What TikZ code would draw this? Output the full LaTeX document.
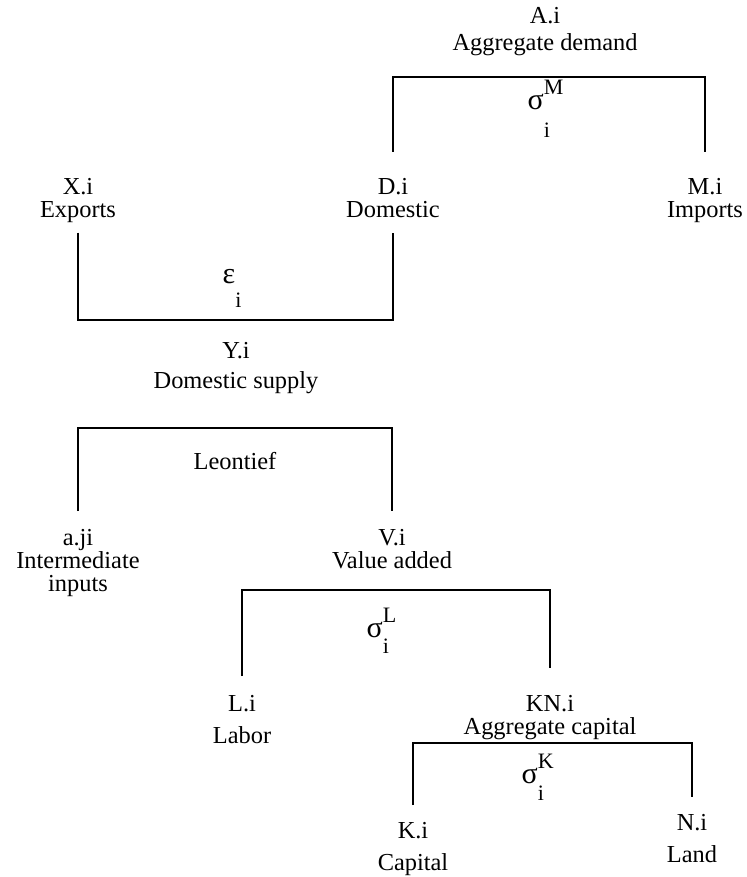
\documentclass[tikz,border=0pt]{standalone}
\usepackage{fontspec}
\setmainfont{Liberation Serif}
\newcommand{\elas}[3]{#1\rlap{\raisebox{7.5pt}{\fontsize{11}{11}\selectfont #2}}\raisebox{-#3}{\fontsize{11}{11}\selectfont i}}

\begin{document}
\begin{tikzpicture}[x=0.5pt,y=-0.5pt,line width=0.7pt,
  lbl/.style={align=center,inner sep=0pt,anchor=north,font=\fontsize{12.2}{11.5}\selectfont},
  par/.style={inner sep=0pt,anchor=base west,font=\fontsize{15}{15}\selectfont}]
\useasboundingbox (0,0) rectangle (746,877);

% labels
\node[lbl] (ad) at (545,7) {A.i\\[2pt]Aggregate demand};
\node[lbl] (exp) at (78,178) {X.i\\Exports};
\node[lbl] (dom) at (393,178) {D.i\\Domestic};
\node[lbl] (imp) at (705,178) {M.i\\Imports};
\node[lbl] (ds) at (236,342) {Y.i\\[3.5pt]Domestic supply};
\node[lbl] (int) at (78,529) {a.ji\\Intermediate\\inputs};
\node[lbl] (va) at (392,529) {V.i\\Value added};
\node[lbl] (lab) at (242,695) {L.i\\[4.5pt]Labor};
\node[lbl] (kn) at (550,695) {KN.i\\Aggregate capital};
\node[lbl] (cap) at (413,822) {K.i\\[4.5pt]Capital};
\node[lbl] (land) at (692,814) {N.i\\[4.5pt]Land};

% elasticities
\node[par] (sigM) at (527,110) {\elas{σ}{M}{14pt}};
\node[par] (epsi) at (222,283) {\elas{ε}{}{12pt}};
\node[lbl] (leon) at (235,452) {Leontief};
\node[par] (sigL) at (366,637) {\elas{σ}{L}{8pt}};
\node[par] (sigK) at (521,783) {\elas{σ}{K}{8.5pt}};

% nests
\coordinate (barA) at (545,77);
\coordinate (barE) at (235,320);
\coordinate (barY) at (235,428);
\coordinate (barV) at (392,590);
\coordinate (barK) at (550,743);

\draw ([yshift=13pt]dom.north) |- (barA) -| ([yshift=13pt]imp.north);
\draw ([yshift=-4.5pt]exp.south) |- (barE) -| ([yshift=-7pt]dom.south);
\draw ([yshift=9pt]int.north) |- (barY) -| ([yshift=9pt]va.north);
\draw ([yshift=9.5pt]lab.north) |- (barV) -| ([yshift=13.5pt]kn.north);
\draw ([yshift=8.5pt]cap.north) |- (barK) -| ([yshift=8.5pt]land.north);
\end{tikzpicture}
\end{document}
